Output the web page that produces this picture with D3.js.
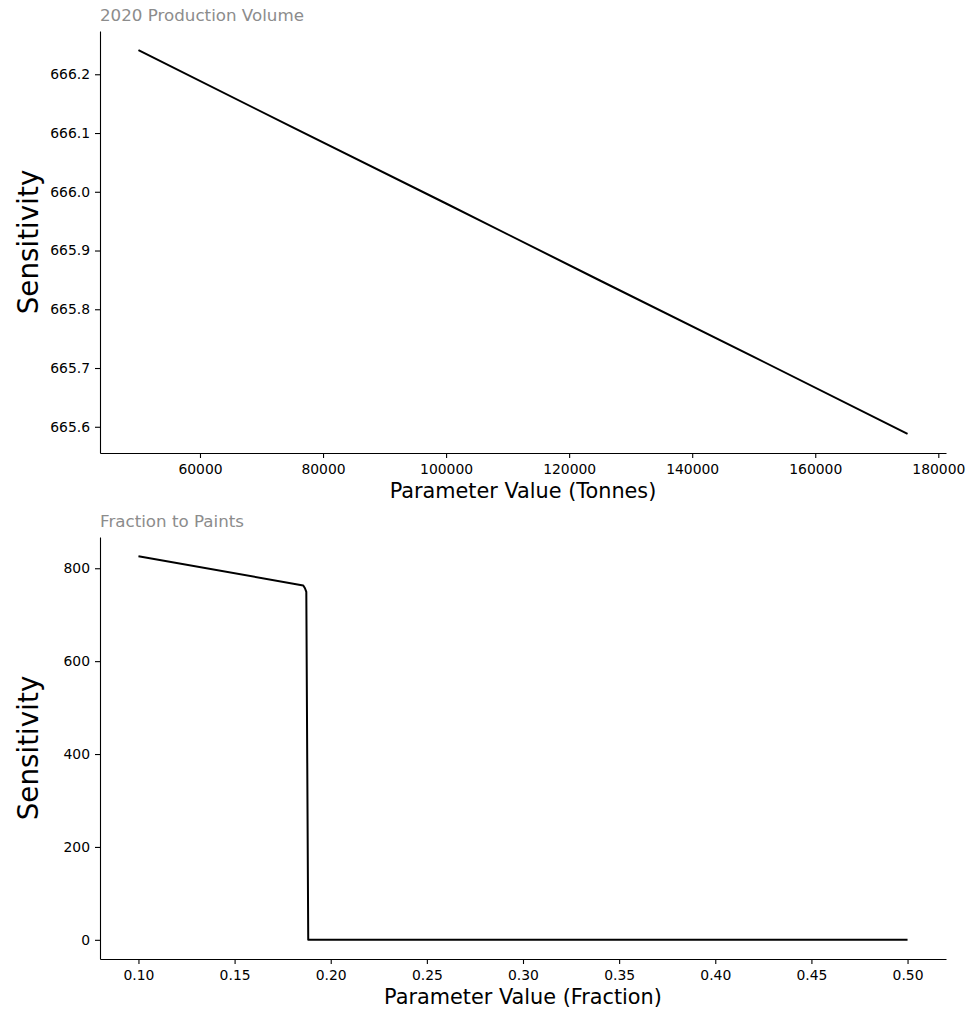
<!DOCTYPE html>
<html>
<head>
<meta charset="utf-8">
<script src="https://cdn.jsdelivr.net/npm/d3@7"></script>
<style>
  body { margin: 0; background: #fff; }
  svg text { font-family: "DejaVu Sans", sans-serif; }
</style>
</head>
<body>
<svg width="966" height="1011"></svg>
<script>
"use strict"

// 2020 Production Volume
let volumeX = [50000, 75000, 100000, 125000, 150000, 175000]
let volumeY = [666.241, 666.110, 665.980, 665.849, 665.719, 665.588]
let volumeXTicks = [60000, 80000, 100000, 120000, 140000, 160000, 180000]
let volumeYTicks = [665.6, 665.7, 665.8, 665.9, 666.0, 666.1, 666.2]

// Fraction to Paints
let paintsX = [0.10, 0.1857, 0.1866, 0.1873, 0.1883, 0.50]
let paintsY = [826, 763, 757, 749, 0, 0]
let paintsXTicks = [0.10, 0.15, 0.20, 0.25, 0.30, 0.35, 0.40, 0.45, 0.50]
let paintsYTicks = [0, 200, 400, 600, 800]

let svg = d3.select("svg")

let panels = [
  {title: "2020 Production Volume", xLabel: "Parameter Value (Tonnes)",
   xs: volumeX, ys: volumeY, xTicks: volumeXTicks, yTicks: volumeYTicks,
   xFmt: d3.format("d"), yFmt: d3.format(".1f"), top: 31, bottom: 453},
  {title: "Fraction to Paints", xLabel: "Parameter Value (Fraction)",
   xs: paintsX, ys: paintsY, xTicks: paintsXTicks, yTicks: paintsYTicks,
   xFmt: d3.format(".2f"), yFmt: d3.format("d"), top: 537, bottom: 959}
]

let left = 100, right = 946

// matplotlib style 5% padding around the data
function padded(vals) {
  let [lo, hi] = d3.extent(vals), m = (hi - lo) * 0.05
  return [lo - m, hi + m]
}

panels.forEach(p => {
  let x = d3.scaleLinear().domain(padded(p.xs)).range([left, right])
  let y = d3.scaleLinear().domain(padded(p.ys)).range([p.bottom, p.top])
  let g = svg.append("g")

  let xAxis = g.append("g")
    .attr("transform", "translate(0," + p.bottom + ")")
    .call(d3.axisBottom(x).tickValues(p.xTicks).tickFormat(p.xFmt)
      .tickSize(5).tickSizeOuter(0).tickPadding(5))
  let yAxis = g.append("g")
    .attr("transform", "translate(" + left + ",0)")
    .call(d3.axisLeft(y).tickValues(p.yTicks).tickFormat(p.yFmt)
      .tickSize(5).tickSizeOuter(0).tickPadding(5))

  ;[xAxis, yAxis].forEach(a => {
    a.select(".domain").attr("stroke", "#000").attr("stroke-width", 1.1)
    a.selectAll(".tick line").attr("stroke", "#000").attr("stroke-width", 1.1)
    a.selectAll(".tick text").attr("fill", "#000").style("font-size", "13.9px")
  })
  xAxis.selectAll(".tick text").attr("dy", "11px")

  let line = d3.line().x((d, i) => x(p.xs[i])).y(d => y(d))
  g.append("path")
    .datum(p.ys)
    .attr("d", line)
    .attr("fill", "none")
    .attr("stroke", "#000")
    .attr("stroke-width", 2)
    .attr("stroke-linejoin", "round")

  g.append("text")
    .attr("x", left)
    .attr("y", p.top - 10)
    .attr("fill", "#8c8c8c")
    .style("font-size", "16.7px")
    .text(p.title)

  g.append("text")
    .attr("x", (left + right) / 2)
    .attr("y", p.bottom + 45)
    .attr("text-anchor", "middle")
    .attr("fill", "#000")
    .style("font-size", "20.8px")
    .text(p.xLabel)

  g.append("text")
    .attr("transform", "translate(38," + (p.top + p.bottom) / 2 + ") rotate(-90)")
    .attr("text-anchor", "middle")
    .attr("fill", "#000")
    .style("font-size", "27.8px")
    .text("Sensitivity")
})
</script>
</body>
</html>
